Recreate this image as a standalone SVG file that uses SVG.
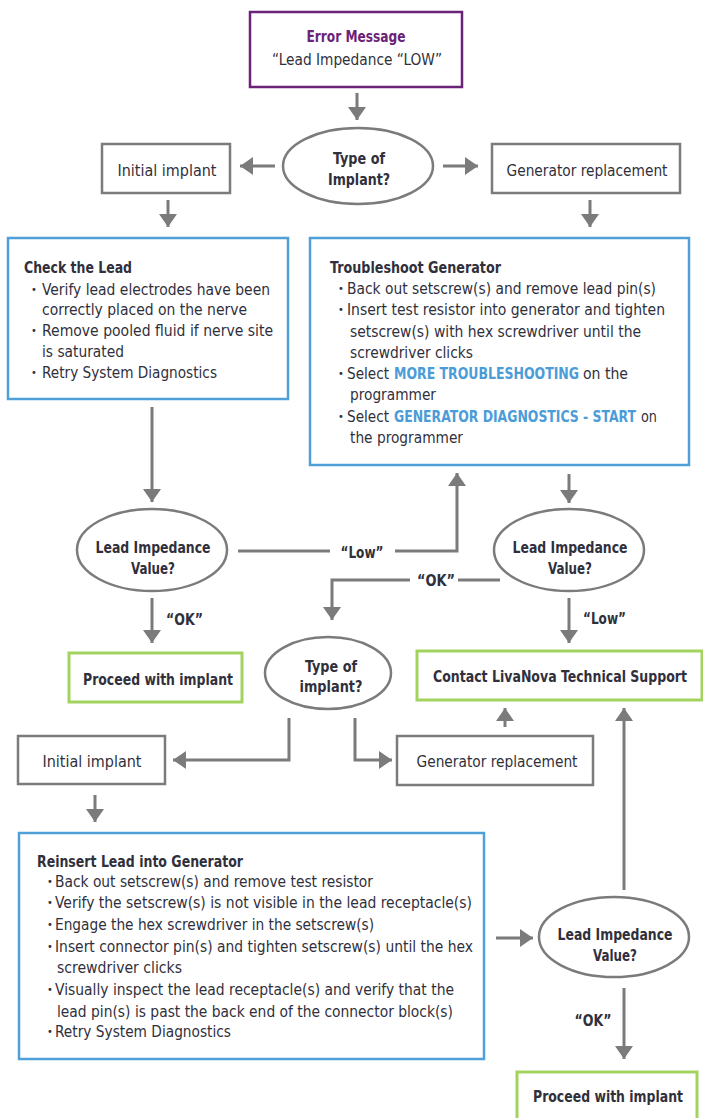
<svg xmlns="http://www.w3.org/2000/svg" width="703" height="1118" viewBox="0 0 703 1118">
<defs>
<marker id="ah" viewBox="0 0 13 18" refX="13" refY="9" markerWidth="13" markerHeight="18" markerUnits="userSpaceOnUse" orient="auto">
<path d="M0,0 L13,9 L0,18 z" fill="#7b7b7b"/>
</marker>
<style>
text{font-family:"DejaVu Sans Condensed","Liberation Sans",sans-serif;font-size:16.5px;fill:#30303c}
.b{font-weight:bold}
.c{text-anchor:middle}
.bu{font-size:11px}
.hl{font-weight:bold;fill:#4b9cd8}
.pu{fill:#6b2378;font-weight:bold}
.gray{fill:#fff;stroke:#7b7b7b;stroke-width:2.5}
.blue{fill:#fff;stroke:#4f9fd8;stroke-width:2.5}
.green{fill:#fff;stroke:#a3d35f;stroke-width:3}
.purple{fill:#fff;stroke:#6b2378;stroke-width:2.5}
.dec{fill:#fff;stroke:#7b7b7b;stroke-width:2.5}
.con path{fill:none;stroke:#7b7b7b;stroke-width:3}
.ar{marker-end:url(#ah)}
</style>
</defs>
<rect width="703" height="1118" fill="#fff"/>

<g id="connectors" class="con">
<path class="ar" d="M357,93 V120"/>
<path class="ar" d="M275,166 H240"/>
<path class="ar" d="M443,166 H478"/>
<path class="ar" d="M168,200 V227"/>
<path class="ar" d="M590,200 V227"/>
<path class="ar" d="M152,407 V502"/>
<path d="M238,551 H330"/>
<path class="ar" d="M395,551 H457 V473"/>
<path class="ar" d="M569,474 V503"/>
<path d="M500,580 H458"/>
<path class="ar" d="M410,580 H332 V620"/>
<path class="ar" d="M569,598 V643"/>
<path class="ar" d="M152,598 V643"/>
<path class="ar" d="M289,718 V760 H173"/>
<path class="ar" d="M355,718 V760 H392"/>
<path class="ar" d="M95,795 V822"/>
<path class="ar" d="M505,727 V708"/>
<path class="ar" d="M496,938 H533"/>
<path class="ar" d="M624,890 V708"/>
<path class="ar" d="M624,988 V1059"/>
<text class="b c" x="362" y="558" textLength="43" lengthAdjust="spacingAndGlyphs">“Low”</text>
<text class="b c" x="436" y="586" textLength="38" lengthAdjust="spacingAndGlyphs">“OK”</text>
<text class="b" x="583" y="624" textLength="43" lengthAdjust="spacingAndGlyphs">“Low”</text>
<text class="b" x="166" y="625" textLength="37" lengthAdjust="spacingAndGlyphs">“OK”</text>
<text class="b c" x="593" y="1026" textLength="37" lengthAdjust="spacingAndGlyphs">“OK”</text>
</g>

<g id="error">
<rect class="purple" x="250" y="12" width="212" height="75"/>
<text class="pu c" x="356" y="42" textLength="99" lengthAdjust="spacingAndGlyphs">Error Message</text>
<text class="c" x="357" y="65" textLength="170" lengthAdjust="spacingAndGlyphs">“Lead Impedance “LOW”</text>
</g>

<g id="type1">
<ellipse class="dec" cx="358" cy="166" rx="75" ry="38"/>
<text class="b c" x="359" y="164" textLength="52" lengthAdjust="spacingAndGlyphs">Type of</text>
<text class="b c" x="359" y="185" textLength="62" lengthAdjust="spacingAndGlyphs">Implant?</text>
</g>

<g id="initial1">
<rect class="gray" x="102" y="144" width="128" height="49"/>
<text class="c" x="167" y="176" textLength="99" lengthAdjust="spacingAndGlyphs">Initial implant</text>
</g>

<g id="genrep1">
<rect class="gray" x="492" y="144" width="188" height="49"/>
<text class="c" x="587" y="176" textLength="161" lengthAdjust="spacingAndGlyphs">Generator replacement</text>
</g>

<g id="checklead">
<rect class="blue" x="8" y="238" width="280" height="161"/>
<text class="b" x="24" y="273" textLength="108" lengthAdjust="spacingAndGlyphs">Check the Lead</text>
<text class="bu" x="31" y="293">•</text><text x="42" y="295" textLength="228" lengthAdjust="spacingAndGlyphs">Verify lead electrodes have been</text>
<text x="42" y="315" textLength="205" lengthAdjust="spacingAndGlyphs">correctly placed on the nerve</text>
<text class="bu" x="31" y="334">•</text><text x="42" y="336" textLength="231" lengthAdjust="spacingAndGlyphs">Remove pooled fluid if nerve site</text>
<text x="42" y="357" textLength="82" lengthAdjust="spacingAndGlyphs">is saturated</text>
<text class="bu" x="31" y="376">•</text><text x="42" y="378" textLength="175" lengthAdjust="spacingAndGlyphs">Retry System Diagnostics</text>
</g>

<g id="troubleshoot">
<rect class="blue" x="310" y="238" width="379" height="227"/>
<text class="b" x="330" y="273" textLength="171" lengthAdjust="spacingAndGlyphs">Troubleshoot Generator</text>
<text class="bu" x="338" y="292">•</text><text x="347" y="294" textLength="309" lengthAdjust="spacingAndGlyphs">Back out setscrew(s) and remove lead pin(s)</text>
<text class="bu" x="338" y="313">•</text><text x="347" y="315" textLength="318" lengthAdjust="spacingAndGlyphs">Insert test resistor into generator and tighten</text>
<text x="350" y="337" textLength="291" lengthAdjust="spacingAndGlyphs">setscrew(s) with hex screwdriver until the</text>
<text x="350" y="358" textLength="123" lengthAdjust="spacingAndGlyphs">screwdriver clicks</text>
<text class="bu" x="338" y="377">•</text>
<text x="347" y="379" textLength="42" lengthAdjust="spacingAndGlyphs">Select</text>
<text class="hl" x="394" y="379" textLength="185" lengthAdjust="spacingAndGlyphs">MORE TROUBLESHOOTING</text>
<text x="583" y="379" textLength="45" lengthAdjust="spacingAndGlyphs">on the</text>
<text x="350" y="400" textLength="86" lengthAdjust="spacingAndGlyphs">programmer</text>
<text class="bu" x="338" y="420">•</text>
<text x="347" y="422" textLength="42" lengthAdjust="spacingAndGlyphs">Select</text>
<text class="hl" x="394" y="422" textLength="242" lengthAdjust="spacingAndGlyphs">GENERATOR DIAGNOSTICS - START</text>
<text x="641" y="422" textLength="16" lengthAdjust="spacingAndGlyphs">on</text>
<text x="350" y="443" textLength="113" lengthAdjust="spacingAndGlyphs">the programmer</text>
</g>

<g id="lead1">
<ellipse class="dec" cx="152" cy="550" rx="75" ry="41"/>
<text class="b c" x="153" y="553" textLength="115" lengthAdjust="spacingAndGlyphs">Lead Impedance</text>
<text class="b c" x="153" y="574" textLength="44" lengthAdjust="spacingAndGlyphs">Value?</text>
</g>

<g id="lead2">
<ellipse class="dec" cx="569" cy="550" rx="75" ry="41"/>
<text class="b c" x="570" y="553" textLength="115" lengthAdjust="spacingAndGlyphs">Lead Impedance</text>
<text class="b c" x="570" y="574" textLength="44" lengthAdjust="spacingAndGlyphs">Value?</text>
</g>

<g id="proceed1">
<rect class="green" x="69" y="653" width="173" height="49"/>
<text class="b c" x="158" y="685" textLength="150" lengthAdjust="spacingAndGlyphs">Proceed with implant</text>
</g>

<g id="type2">
<ellipse class="dec" cx="328" cy="673" rx="63" ry="36"/>
<text class="b c" x="331" y="672" textLength="52" lengthAdjust="spacingAndGlyphs">Type of</text>
<text class="b c" x="331" y="692" textLength="63" lengthAdjust="spacingAndGlyphs">implant?</text>
</g>

<g id="contact">
<rect class="green" x="417" y="651" width="285" height="49"/>
<text class="b c" x="560" y="682" textLength="254" lengthAdjust="spacingAndGlyphs">Contact LivaNova Technical Support</text>
</g>

<g id="initial2">
<rect class="gray" x="18" y="736" width="147" height="48"/>
<text class="c" x="92" y="767" textLength="99" lengthAdjust="spacingAndGlyphs">Initial implant</text>
</g>

<g id="genrep2">
<rect class="gray" x="397" y="736" width="196" height="49"/>
<text class="c" x="497" y="767" textLength="161" lengthAdjust="spacingAndGlyphs">Generator replacement</text>
</g>

<g id="reinsert">
<rect class="blue" x="19" y="833" width="465" height="226"/>
<text class="b" x="37" y="867" textLength="206" lengthAdjust="spacingAndGlyphs">Reinsert Lead into Generator</text>
<text class="bu" x="47" y="885">•</text><text x="55" y="887" textLength="318" lengthAdjust="spacingAndGlyphs">Back out setscrew(s) and remove test resistor</text>
<text class="bu" x="47" y="906">•</text><text x="55" y="908" textLength="417" lengthAdjust="spacingAndGlyphs">Verify the setscrew(s) is not visible in the lead receptacle(s)</text>
<text class="bu" x="47" y="928">•</text><text x="55" y="930" textLength="319" lengthAdjust="spacingAndGlyphs">Engage the hex screwdriver in the setscrew(s)</text>
<text class="bu" x="47" y="950">•</text><text x="55" y="952" textLength="418" lengthAdjust="spacingAndGlyphs">Insert connector pin(s) and tighten setscrew(s) until the hex</text>
<text x="57" y="973" textLength="125" lengthAdjust="spacingAndGlyphs">screwdriver clicks</text>
<text class="bu" x="47" y="993">•</text><text x="55" y="995" textLength="399" lengthAdjust="spacingAndGlyphs">Visually inspect the lead receptacle(s) and verify that the</text>
<text x="57" y="1017" textLength="396" lengthAdjust="spacingAndGlyphs">lead pin(s) is past the back end of the connector block(s)</text>
<text class="bu" x="47" y="1035">•</text><text x="55" y="1037" textLength="176" lengthAdjust="spacingAndGlyphs">Retry System Diagnostics</text>
</g>

<g id="lead3">
<ellipse class="dec" cx="614" cy="937" rx="75" ry="40"/>
<text class="b c" x="615" y="940" textLength="115" lengthAdjust="spacingAndGlyphs">Lead Impedance</text>
<text class="b c" x="615" y="961" textLength="44" lengthAdjust="spacingAndGlyphs">Value?</text>
</g>

<g id="proceed2">
<rect class="green" x="517" y="1072" width="180" height="60"/>
<text class="b c" x="608" y="1102" textLength="150" lengthAdjust="spacingAndGlyphs">Proceed with implant</text>
</g>
</svg>
